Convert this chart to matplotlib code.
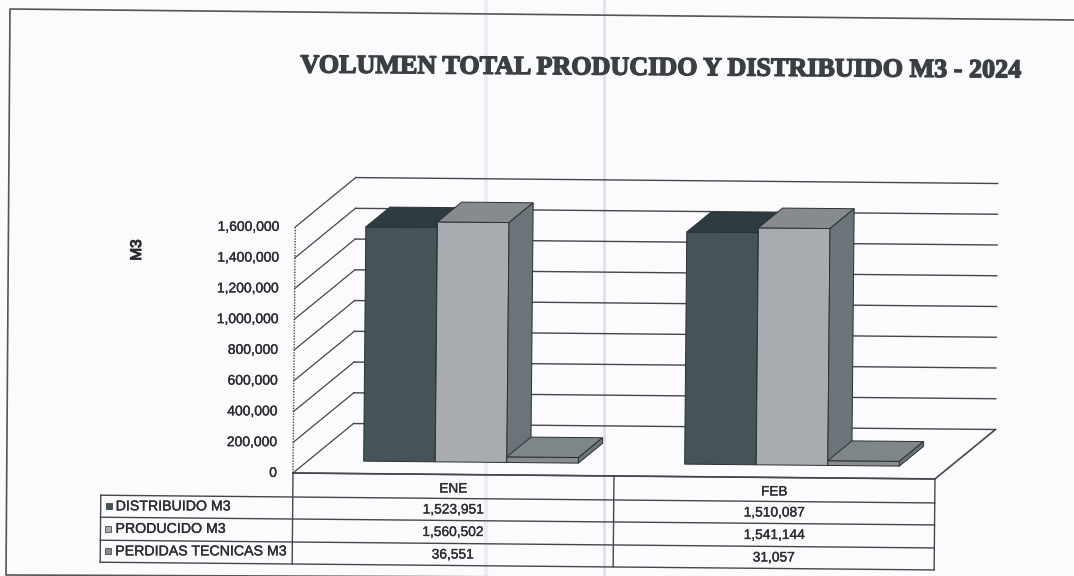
#!/usr/bin/env python3
"""Volumen total producido y distribuido M3 - 2024: scanned pseudo-3D Excel chart."""
import matplotlib
matplotlib.use("Agg")
import matplotlib.pyplot as plt
import matplotlib.patheffects as pe
from matplotlib.patches import Polygon
from matplotlib.transforms import Affine2D

months = ["ENE", "FEB"]
series = ["DISTRIBUIDO M3", "PRODUCIDO M3", "PERDIDAS TECNICAS M3"]
distribuido = [1523951, 1510087]
producido = [1560502, 1541144]
perdidas = [36551, 31057]
y_ticks = [0, 200000, 400000, 600000, 800000, 1000000, 1200000, 1400000, 1600000]

W, H = 1074, 576
X0, Y0 = 293, 473       # pixel of the front axis origin
PX_CAT = 321            # pixels per category
PX_1600K = 246          # pixels from 0 to 1,600,000
BG = "#fbfbfe"
LINE = "#46464a"
TXT = "#2c2c30"

# front, top, side colours for each series
FACES = [("#445459", "#2e3b40", "#2e3b40"),
         ("#a8abb0", "#868b90", "#6b7479"),
         ("#858b8f", "#7e8689", "#6b7479")]
BAR_W = 0.223
BAR_START = 0.173
DEPTH_X = 60 / PX_CAT
DEPTH_Y = 50 / PX_1600K * 1600000
BAR_D0, BAR_D1 = 0.25, 0.65

plt.rcParams["font.family"] = ["Liberation Sans", "DejaVu Sans"]
thick = [pe.withStroke(linewidth=0.25, foreground=TXT)]

fig = plt.figure(figsize=(W / 100, H / 100), dpi=100, facecolor=BG)
ax = fig.add_axes([0, 0, 1, 1])
ax.set_xlim(-X0 / PX_CAT, (W - X0) / PX_CAT)
ax.set_ylim((Y0 - H) / PX_1600K * 1600000, Y0 / PX_1600K * 1600000)
ax.axis("off")

# the page was scanned slightly crooked
tilt = Affine2D().rotate_deg_around(X0, H - Y0, -0.53)
data_tr = ax.transData + tilt
px_tr = Affine2D().scale(1, -1).translate(0, H) + tilt
flat_px = Affine2D().scale(1, -1).translate(0, H)


def poly(pts, color, z):
    ax.add_patch(Polygon(pts, closed=True, facecolor=color, edgecolor="#2a3033",
                         linewidth=0.7, transform=data_tr, zorder=z))


def px_line(xs, ys, lw=1.0, color=LINE, ls="-", tr=None):
    ax.plot(xs, ys, color=color, lw=lw, ls=ls, transform=tr or px_tr,
            clip_on=False, zorder=6)


# scan fold lines and outer frame
ax.plot([486, 486], [0, H], color="#ececf6", lw=3.0, transform=flat_px, zorder=1)
ax.plot([604, 604], [0, H], color="#e0e0f0", lw=2.0, transform=flat_px, zorder=1)
px_line([1074, 10, 6, 1074], [20, 9, 575, 579], lw=1.2, color="#555558", tr=flat_px)

# walls and gridlines
for v in y_ticks:
    ax.plot([0, DEPTH_X], [v, v + DEPTH_Y], color=LINE, lw=0.9, transform=data_tr, zorder=2)
    ax.plot([DEPTH_X, 2 + DEPTH_X], [v + DEPTH_Y] * 2, color=LINE, lw=1.0,
            transform=data_tr, zorder=2)
    ax.text(-0.05, v, f"{v:,}", ha="right", va="center", fontsize=10, color=TXT,
            transform=data_tr, zorder=6, path_effects=thick)
ax.plot([0, 0], [0, 1600000], color=LINE, lw=1.0, ls=(0, (1, 1)), transform=data_tr, zorder=2)
ax.plot([0, 2, 2 + DEPTH_X], [0, 0, DEPTH_Y], color=LINE, lw=1.2, transform=data_tr, zorder=2)

# bars, back to front within each month
ddx0, ddy0 = BAR_D0 * DEPTH_X, BAR_D0 * DEPTH_Y
ddx1, ddy1 = BAR_D1 * DEPTH_X, BAR_D1 * DEPTH_Y
for i in range(len(months)):
    vals = [distribuido[i], producido[i], perdidas[i]]
    for j, v in enumerate(vals):
        x0 = i + BAR_START + j * BAR_W + ddx0
        x1 = x0 + BAR_W
        back_x = ddx1 - ddx0
        front, top, side = FACES[j]
        z = 3 + j * 0.1
        poly([(x0, ddy0), (x1, ddy0), (x1, v + ddy0), (x0, v + ddy0)], front, z)
        poly([(x0, v + ddy0), (x1, v + ddy0), (x1 + back_x, v + ddy1), (x0 + back_x, v + ddy1)], top, z)
        poly([(x1, ddy0), (x1 + back_x, ddy1), (x1 + back_x, v + ddy1), (x1, v + ddy0)], side, z)

ax.text(137, 250, "M3", rotation=90, ha="center", va="center", fontsize=11,
        color=TXT, transform=flat_px, zorder=6,
        path_effects=[pe.withStroke(linewidth=0.8, foreground=TXT)])
ax.text(661, 68.5, "VOLUMEN TOTAL PRODUCIDO Y DISTRIBUIDO M3 - 2024", ha="center", va="center",
        fontsize=18.8, fontweight="bold", family="Liberation Serif", color="#3a3f44",
        rotation=-0.4, rotation_mode="anchor", transform=flat_px, zorder=6,
        path_effects=[pe.withStroke(linewidth=1.0, foreground="#3a3f44")])

# data table under the plot
row_y = [473, 497, 519, 542, 564]
col_x = [101, 293, 614, 935]
for k, ry in enumerate(row_y):
    px_line([col_x[0] if k else col_x[1], col_x[3]], [ry, ry])
px_line([col_x[0], col_x[0]], [row_y[1], row_y[4]])
for cx in col_x[1:]:
    px_line([cx, cx], [row_y[0], row_y[4]])

for i, m in enumerate(months):
    cx = (col_x[i + 1] + col_x[i + 2]) / 2
    ax.text(cx, (row_y[0] + row_y[1]) / 2 + 2, m, ha="center", va="center", fontsize=9.8,
            color=TXT, transform=px_tr, zorder=6, path_effects=thick)
rows = [distribuido, producido, perdidas]
for r, name in enumerate(series):
    cy = (row_y[r + 1] + row_y[r + 2]) / 2
    ax.plot([109], [cy], marker="s", ms=4.5, color=FACES[r][0], mec="#333333", mew=0.5,
            transform=px_tr, zorder=6)
    ax.text(116, cy, name, ha="left", va="center", fontsize=10.2, color=TXT, transform=px_tr,
            zorder=6, path_effects=thick)
    for i, v in enumerate(rows[r]):
        cx = (col_x[i + 1] + col_x[i + 2]) / 2
        ax.text(cx, cy, f"{v:,}", ha="center", va="center", fontsize=9.9, color=TXT,
                transform=px_tr, zorder=6, path_effects=thick)

fig.savefig("out.png", dpi=100, facecolor=BG)
